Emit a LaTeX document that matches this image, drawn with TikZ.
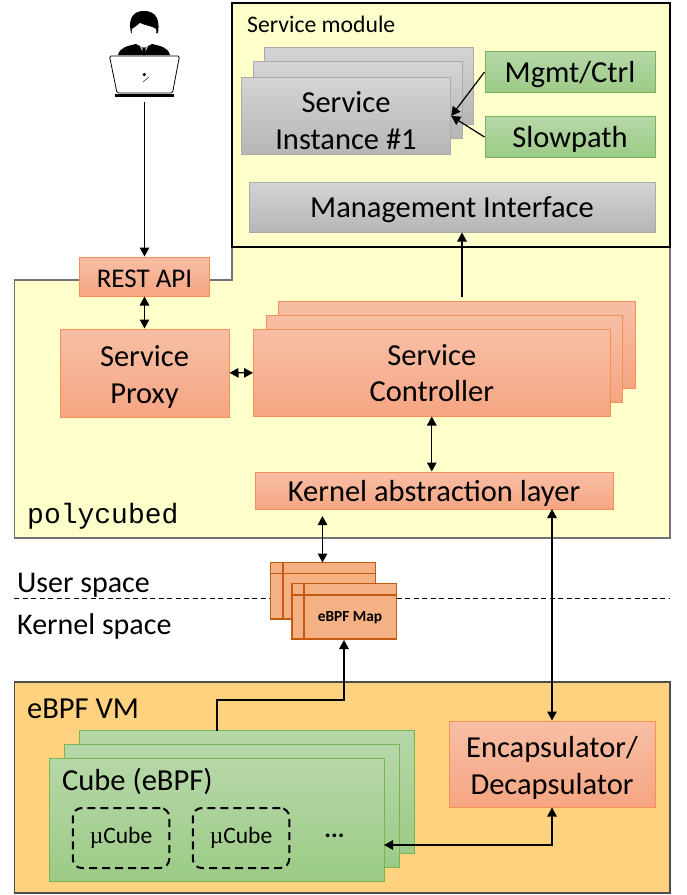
\documentclass[tikz,border=0pt]{standalone}
\usepackage{fontspec}
\setmainfont{Carlito}
\newfontfamily\monofont{Liberation Mono}
\newfontfamily\mufont{Liberation Serif}
\usetikzlibrary{arrows.meta}

\definecolor{paleyellow}{HTML}{FFFFCC}
\definecolor{vmorange}{HTML}{FFD27F}
\definecolor{mapfill}{HTML}{F4B183}
\definecolor{mapline}{HTML}{C55A11}
\definecolor{redtop}{HTML}{F7BFA6}
\definecolor{redbottom}{HTML}{F6A582}
\definecolor{redline}{HTML}{F58F52}
\definecolor{graytop}{HTML}{D4D4D4}
\definecolor{graybottom}{HTML}{B6B6B6}
\definecolor{grayline}{HTML}{ABABAB}
\definecolor{greentop}{HTML}{B6D7A8}
\definecolor{greenbottom}{HTML}{9CCB86}
\definecolor{greenline}{HTML}{76B455}

\newcommand{\boxstrut}{\rule[-4.6pt]{0pt}{30.6pt}}

\tikzset{
  basebox/.style={rectangle,inner sep=0pt,line width=1pt,align=center,font=\fontsize{30.5}{36.5}\selectfont,
    execute at begin node=\boxstrut,execute at end node=\boxstrut},
  boxlabel/.style={inner sep=0pt,align=center,font=\fontsize{30.5}{36.5}\selectfont},
  redbox/.style={basebox,draw=redline,top color=redtop,bottom color=redbottom},
  graybox/.style={basebox,draw=grayline,top color=graytop,bottom color=graybottom},
  greenbox/.style={basebox,draw=greenline,top color=greentop,bottom color=greenbottom},
  mapbox/.style={rectangle,inner sep=0pt,draw=mapline,fill=mapfill,line width=1.5pt},
  ucube/.style={rectangle,rounded corners=9pt,draw=black,dashed,dash pattern=on 8pt off 5pt,line width=2pt,inner sep=0pt,minimum width=96.5pt,minimum height=60pt,font=\fontsize{23.5}{28}\selectfont},
  label/.style={inner sep=0pt,anchor=base west},
  link/.style={line width=1.2pt}
}

\begin{document}
\begin{tikzpicture}[line cap=butt,line join=miter,>={Triangle[length=9pt,width=9.5pt]},x=1pt,y=-1pt]
  \useasboundingbox (0,0) rectangle (686,895);

  % polycubed area and service module
  \draw[fill=paleyellow,draw=black!55,line width=1.2pt] (14.5,280) -- (232,280) -- (232,247) -- (670,247) -- (670,538) -- (14.5,538) -- cycle;
  \draw[fill=paleyellow,draw=black,line width=1.6pt] (232,3) rectangle (670,247);

  % eBPF VM area
  \draw[fill=vmorange,draw=black!70,line width=1.2pt] (14.5,682) rectangle (670,893);

  % User / kernel border
  \draw[dashed,dash pattern=on 5pt off 3.5pt,line width=1pt] (14,598) -- (670,598);

  % Area labels
  \node[label,font=\fontsize{23.7}{26}\selectfont] (modulelabel) at (247,32) {Service module};
  \node[label,font=\monofont\fontsize{28}{30}\selectfont] (daemonlabel) at (27,523) {polycubed};
  \node[label,font=\fontsize{30}{32}\selectfont] (userlabel) at (17,592) {User space};
  \node[label,font=\fontsize{30}{32}\selectfont] (kernellabel) at (17,634) {Kernel space};
  \node[label,font=\fontsize{30.5}{32}\selectfont] (vmlabel) at (27,718) {eBPF VM};

  % User with laptop
  \fill[black] (118,55) .. controls (120,47) and (128,46) .. (136,44) -- (144,48) -- (152,44) .. controls (160,46) and (168,47) .. (170,55) -- cycle;
  \fill[black] (131,33) .. controls (127,14) and (137,11) .. (144,11) .. controls (151,11) and (161,14) .. (158,33) -- cycle;
  \fill[white] (132,29) .. controls (135,27) and (138,25) .. (140,23) .. controls (146,26) and (152,26) .. (156,29) .. controls (158,36) and (150,42.5) .. (144,42.5) .. controls (138,42.5) and (130,36) .. (132,29) -- cycle;
  \fill[white] (140,46) -- (144,49) -- (148,46) -- (147.5,47) -- (144,55) -- (140.5,47) -- cycle;
  \fill[black] (142.5,47.5) -- (145.5,47.5) -- (146,55) -- (142,55) -- cycle;
  \draw[fill=white,line width=0.8pt,rounded corners=1.5pt] (109.5,56) -- (179.5,56) -- (172.5,93) -- (117,93) -- cycle;
  \draw[line width=2.6pt] (115,95.5) -- (174,95.5);
  \fill[black] (144.3,74.5) circle (1.8pt);
  \draw[line width=0.4pt] (143,82) -- (149,77);
  \coordinate (user) at (144.5,102);

  % Service module content
  \node[graybox,minimum width=209.5pt,minimum height=76.5pt] (instback) at (368.8,85.8) {};
  \node[graybox,minimum width=209.5pt,minimum height=76.5pt] (instmid) at (358,100) {};
  \node[graybox,minimum width=209.5pt,minimum height=76.5pt] (instance) at (346,116) {};
  \node[boxlabel] (instlabel) at (346,120.5) {Service\\Instance \#1};
  \node[greenbox,minimum width=170pt,minimum height=40.5pt] (mgmt) at (570,72) {Mgmt/Ctrl};
  \node[greenbox,minimum width=170pt,minimum height=40.5pt] (slowpath) at (570,137) {Slowpath};
  \node[graybox,minimum width=406pt,minimum height=50pt] (mgmtif) at (452,207) {Management Interface};

  % Daemon content
  \node[redbox,minimum width=130pt,minimum height=39pt,font=\fontsize{27}{30}\selectfont] (rest) at (144.5,276.5) {REST API};
  \node[redbox,minimum width=169pt,minimum height=88pt] (proxy) at (144.5,373) {};
  \node[boxlabel] (proxylabel) at (144.5,377) {Service\\Proxy};
  \node[redbox,minimum width=356.5pt,minimum height=87pt] (ctrlback) at (457,345) {};
  \node[redbox,minimum width=356.5pt,minimum height=87pt] (ctrlmid) at (444.3,359) {};
  \node[redbox,minimum width=356.5pt,minimum height=87pt] (ctrl) at (431.8,372.5) {};
  \node[boxlabel] (ctrllabel) at (431.8,373.2) {Service\\Controller};
  \node[redbox,minimum width=358pt,minimum height=37pt] (kal) at (434,490.5) {Kernel abstraction layer};

  % eBPF maps
  \node[mapbox,minimum width=105pt,minimum height=56.5pt] (mapback) at (323,590.7) {};
  \draw[mapline,line width=1.5pt] (283,562.5) -- (283,619);
  \draw[mapline,line width=1.5pt] (270.5,573.5) -- (375.5,573.5);
  \node[mapbox,minimum width=104.5pt,minimum height=55.5pt] (map) at (344.3,611.2) {};
  \draw[mapline,line width=1.5pt] (304,583.5) -- (304,639);
  \draw[mapline,line width=1.5pt] (292,595) -- (396.5,595);
  \node[inner sep=0pt,font=\bfseries\fontsize{15.4}{17}\selectfont] (maplabel) at (350,617.5) {eBPF Map};

  % Cubes
  \node[greenbox,minimum width=335pt,minimum height=122.5pt] (cubeback) at (247,792.2) {};
  \node[greenbox,minimum width=335pt,minimum height=122.5pt] (cubemid) at (232,806.2) {};
  \node[greenbox,minimum width=335pt,minimum height=122.5pt] (cube) at (217,820.2) {};
  \node[label,font=\fontsize{30.5}{32}\selectfont] (cubelabel) at (62,790) {Cube (eBPF)};
  \node[ucube] (ucubeone) at (121,838) {{\mufont µ}Cube};
  \node[ucube] (ucubetwo) at (241,838) {{\mufont µ}Cube};
  \node[inner sep=0pt,font=\bfseries\fontsize{25}{28}\selectfont] (dots) at (334.5,836) {...};
  \node[redbox,minimum width=206pt,minimum height=86pt] (encap) at (552,764) {};
  \node[boxlabel] (encaplabel) at (552,768) {Encapsulator/\\Decapsulator};

  % Connectors
  \draw[->,link] (user) -- (rest.north);
  \draw[<->,link] (rest) -- (proxy);
  \draw[<->,link] (proxy) -- (ctrl);
  \draw[<->,link] (ctrl.south) -- (ctrl.south |- kal.north);
  \draw[->,link] (462,297) -- (462,232.5);
  \draw[->,link] (mgmt.west) -- (instance.east);
  \draw[->,link] (slowpath.west) -- (instance.east);
  \draw[<->,link] (322.5,516) -- (322.5,562.5);
  \draw[<->,link] (552,509) -- (encap.north);
  \draw[->,link] (217,731) |- (344,700) -- (344,640);
  \draw[<->,link] (384,845) -| (encap.south);
\end{tikzpicture}
\end{document}
